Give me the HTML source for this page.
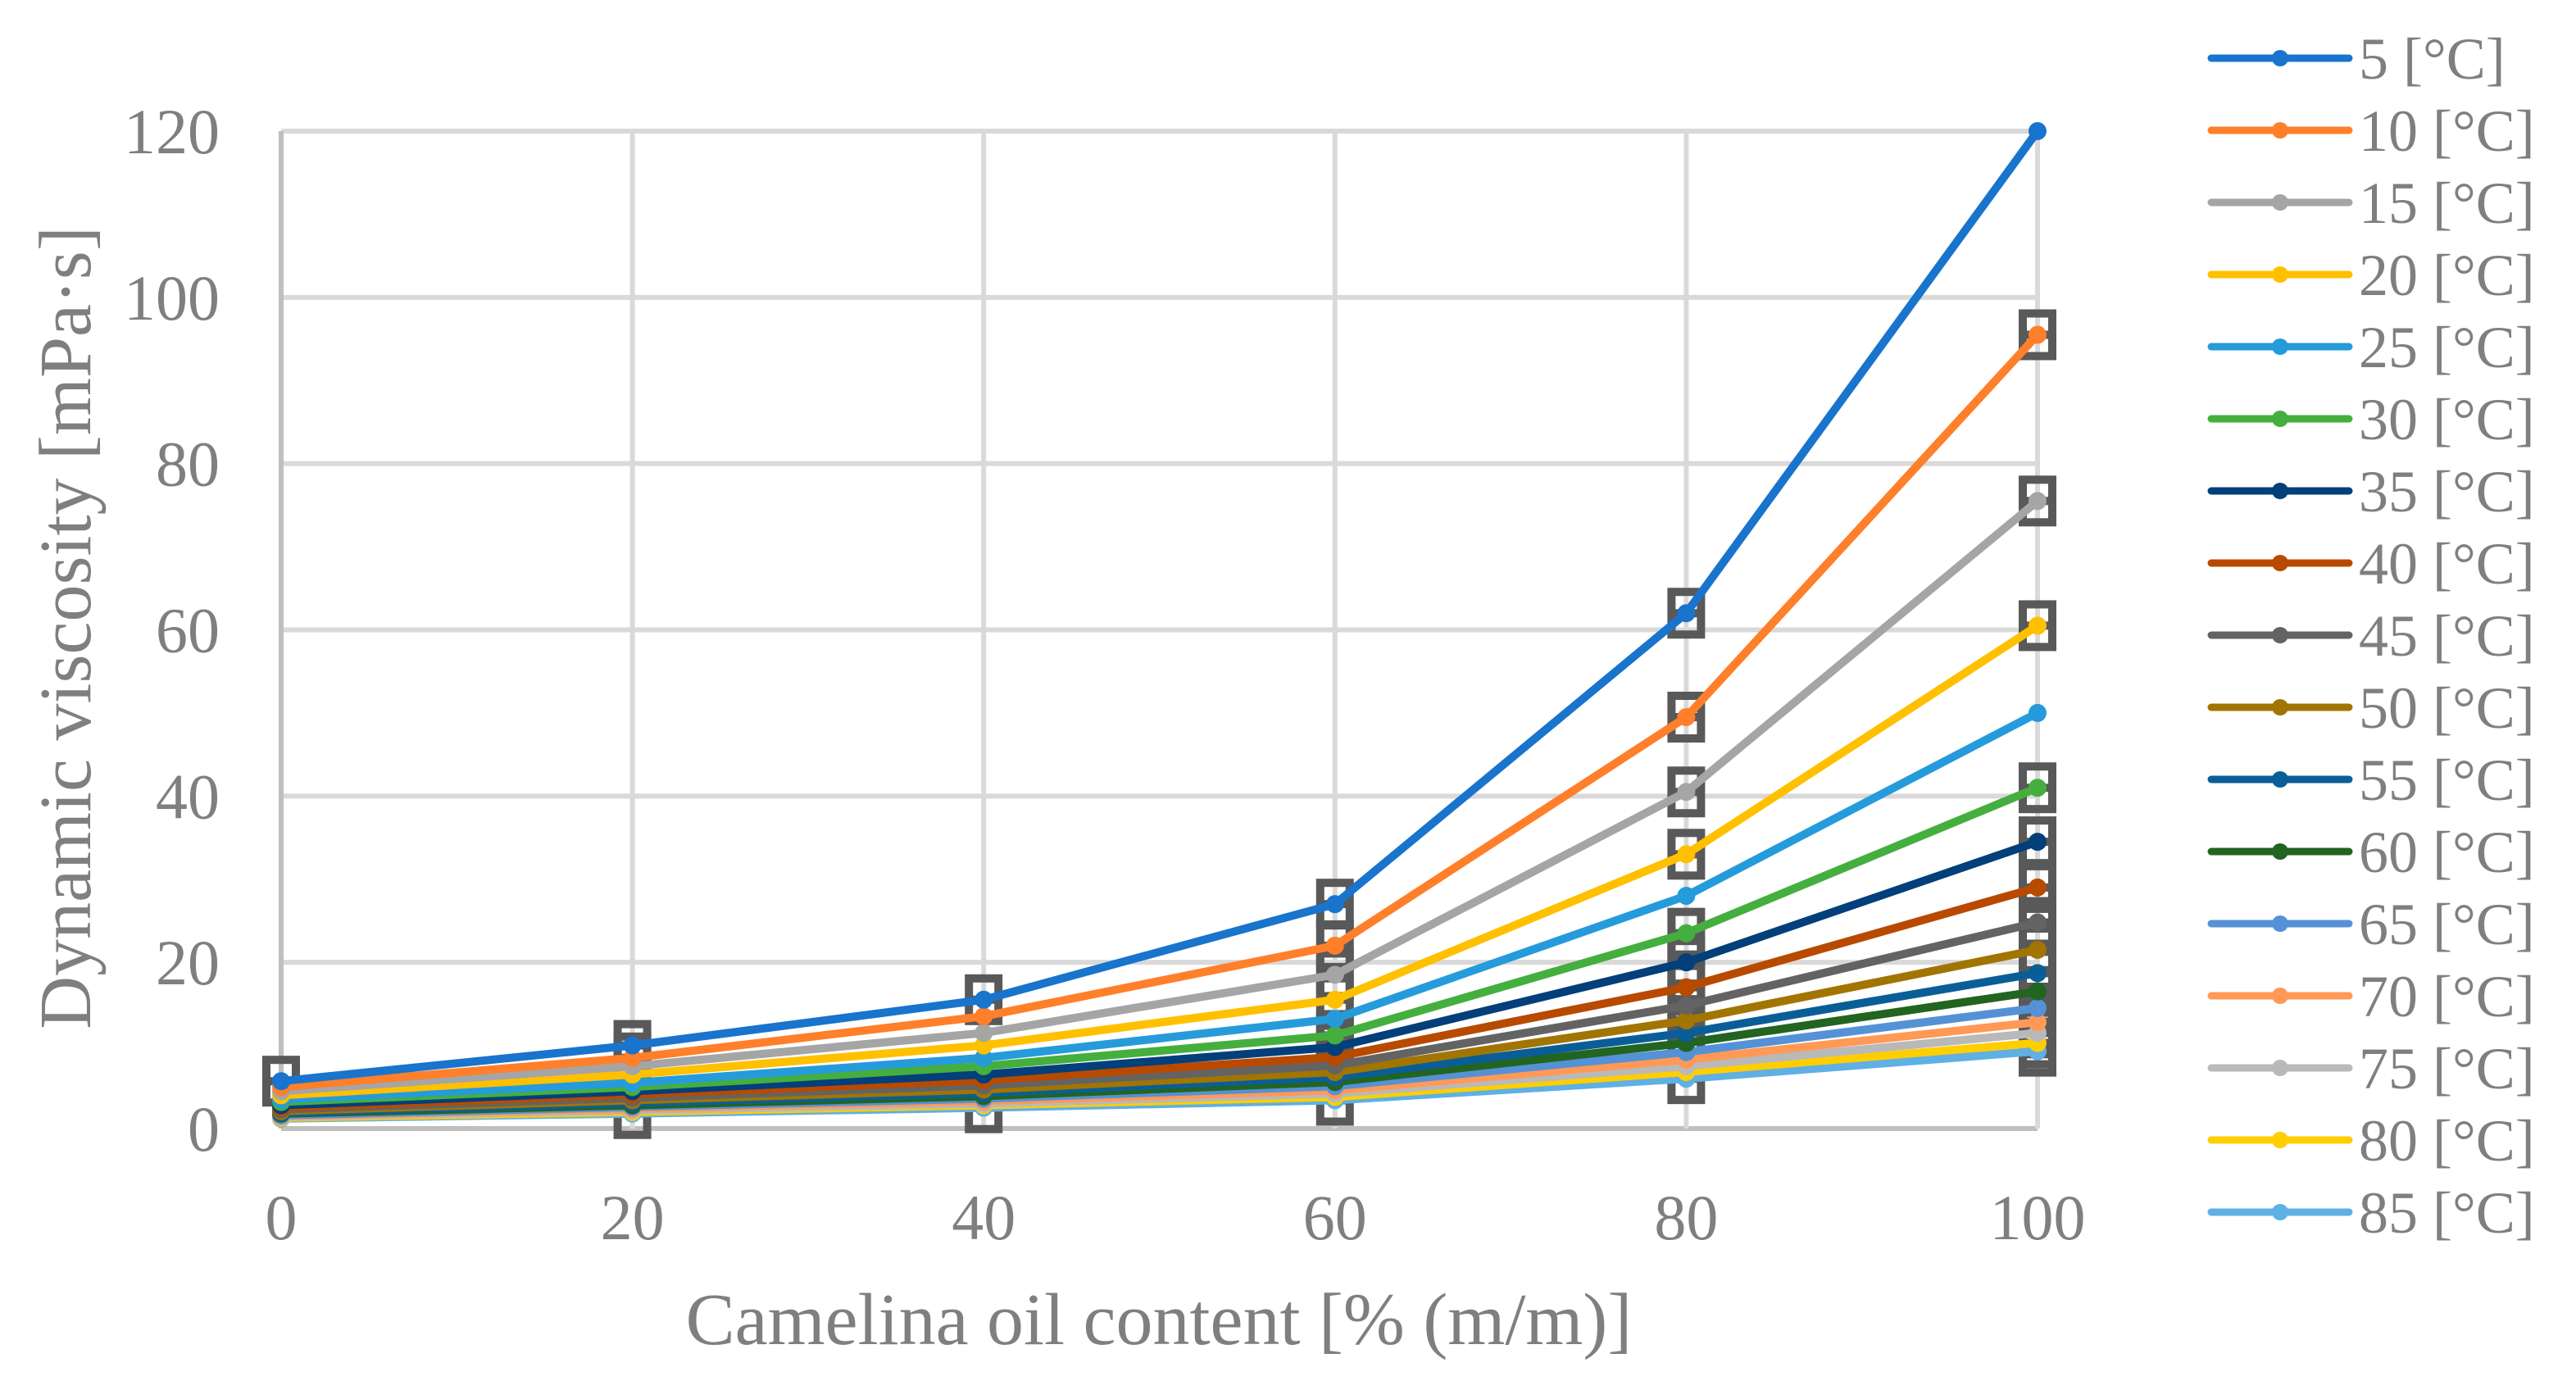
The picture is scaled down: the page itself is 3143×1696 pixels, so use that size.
<!DOCTYPE html>
<html><head><meta charset="utf-8"><style>
html,body{margin:0;padding:0;background:#fff;}
svg{display:block;font-family:"Liberation Serif",serif;}
</style></head><body>
<svg id="chart" width="3143" height="1696" viewBox="0 0 3143 1696" xmlns="http://www.w3.org/2000/svg">
<g id="grid"></g>
<g id="axes"></g>
<g id="errs"></g>
<g id="series"></g>
<g id="legend"></g>
<text x="0" y="0" transform="translate(110,766) rotate(-90)" text-anchor="middle" font-size="90" fill="#7f7f7f">Dynamic viscosity [mPa·s]</text>
<text x="1414" y="1640" text-anchor="middle" font-size="90" fill="#7f7f7f">Camelina oil content [% (m/m)]</text>
</svg>
<script>
const categories = [0, 20, 40, 60, 80, 100];
const yTicks = [0, 20, 40, 60, 80, 100, 120];
const seriesNames = ["5 [°C]","10 [°C]","15 [°C]","20 [°C]","25 [°C]","30 [°C]","35 [°C]","40 [°C]","45 [°C]","50 [°C]","55 [°C]","60 [°C]","65 [°C]","70 [°C]","75 [°C]","80 [°C]","85 [°C]"];
const colors = ["#1874cd","#ff7f2a","#a5a5a5","#ffc000","#259bdb","#44af3e","#033f7a","#b84a00","#636363","#a17500","#0a5e98","#226421","#5591d6","#ff9955","#b9b9b9","#ffce00","#5eb0e5"];
const s5  = [5.7, 10, 15.5, 27, 62, 120];
const s10 = [5.0, 8.5, 13.5, 22, 49.5, 95.5];
const s15 = [4.5, 7.5, 11.5, 18.5, 40.5, 75.5];
const s20 = [4.0, 6.5, 10, 15.5, 33, 60.5];
const s25 = [3.5, 5.5, 8.5, 13.2, 28, 50];
const s30 = [3.2, 5.0, 7.5, 11.2, 23.5, 41];
const s35 = [2.8, 4.5, 6.5, 9.8, 20, 34.5];
const s40 = [2.5, 4.1, 5.8, 8.6, 17, 29];
const s45 = [2.3, 3.7, 5.2, 7.6, 14.8, 24.8];
const s50 = [2.1, 3.4, 4.7, 6.8, 13, 21.5];
const s55 = [1.9, 3.1, 4.3, 6.2, 11.5, 18.7];
const s60 = [1.8, 2.8, 3.9, 5.6, 10.3, 16.5];
const s65 = [1.6, 2.6, 3.6, 5.1, 9.2, 14.5];
const s70 = [1.5, 2.4, 3.3, 4.6, 8.3, 12.8];
const s75 = [1.4, 2.2, 3.0, 4.2, 7.5, 11.5];
const s80 = [1.3, 2.0, 2.8, 3.8, 6.8, 10.3];
const s85 = [1.2, 1.8, 2.5, 3.4, 6.0, 9.3];
const seriesValues = [s5,s10,s15,s20,s25,s30,s35,s40,s45,s50,s55,s60,s65,s70,s75,s80,s85];
// which points carry an error-bar glyph (1 = yes)
const errorFlags = [
 [1,1,1,1,1,0],[0,1,0,1,1,1],[0,0,0,1,1,1],[0,0,0,1,1,1],[0,0,0,0,0,0],[0,0,0,1,1,1],
 [0,0,0,1,1,1],[0,0,0,1,1,1],[0,0,0,1,1,1],[0,0,0,1,1,1],[0,0,0,0,1,1],[0,0,0,0,0,1],
 [0,0,0,0,0,1],[0,0,0,0,0,1],[0,0,0,0,0,1],[0,0,0,0,0,1],[0,1,1,1,1,1]];

const NS = "http://www.w3.org/2000/svg";
const X0 = 343, X1 = 2486, Y0 = 1377, Y1 = 160;
function xScale(v){ return X0 + (v - 0) / 100 * (X1 - X0); }
function yScale(v){ return Y0 - v / 120 * (Y0 - Y1); }
function mk(tag, attrs, parent){ const e = document.createElementNS(NS, tag); for (const k in attrs) e.setAttribute(k, attrs[k]); parent.appendChild(e); return e; }

const grid = document.getElementById('grid');
yTicks.forEach(t => {
  const l = mk('line', {x1:X0, x2:X1, y1:yScale(t), y2:yScale(t), stroke: t===0 ? '#bfbfbf' : '#d9d9d9', 'stroke-width': 6}, grid);
  
  
  const tx = mk('text', {x: 268, y: yScale(t) + 27, 'text-anchor':'end', 'font-size': 78, fill:'#7f7f7f'}, grid);
  tx.textContent = t;
  
  
});
categories.forEach(c => {
  const l = mk('line', {x1:xScale(c), x2:xScale(c), y1:Y1, y2:Y0, stroke: c===0 ? '#bfbfbf' : '#d9d9d9', 'stroke-width': 6}, grid);
  
  
  const tx = mk('text', {x: xScale(c), y: 1512, 'text-anchor':'middle', 'font-size': 78, fill:'#7f7f7f'}, grid);
  tx.textContent = c;
  
  
});

const errs = document.getElementById('errs');
seriesValues.forEach((vals, si) => {
  vals.forEach((v, i) => {
    if (!errorFlags[si][i]) return;
    const cx = xScale(categories[i]), cy = yScale(v);
    const g = mk('g', {fill:'none', stroke:'#595959', 'stroke-width': 10}, errs);
    
    
    mk('rect', {x: cx - 18, y: cy - 26, width: 36, height: 52}, g);
    mk('line', {x1: cx - 18, x2: cx + 18, y1: cy, y2: cy}, g);
  });
});

const sg = document.getElementById('series');
for (let si = seriesValues.length - 1; si >= 0; si--) {
  const vals = seriesValues[si];
  const g = mk('g', {}, sg);
  
  
  const pts = vals.map((v, i) => xScale(categories[i]) + ',' + yScale(v)).join(' ');
  mk('polyline', {points: pts, fill:'none', stroke: colors[si], 'stroke-width': 10, 'stroke-linejoin':'round', 'stroke-linecap':'round'}, g);
  vals.forEach((v, i) => {
    const c = mk('circle', {cx: xScale(categories[i]), cy: yScale(v), r: 11, fill: colors[si]}, g);
    
    
  });
}

const lg = document.getElementById('legend');
seriesNames.forEach((n, i) => {
  const y = 71 + i * 88;
  const g = mk('g', {}, lg);
  
  
  mk('line', {x1: 2698, x2: 2866, y1: y, y2: y, stroke: colors[i], 'stroke-width': 9, 'stroke-linecap':'round'}, g);
  mk('circle', {cx: 2782, cy: y, r: 10, fill: colors[i]}, g);
  const t = mk('text', {x: 2878, y: y + 25, 'font-size': 72, fill: '#7f7f7f'}, g);
  t.textContent = n;
});
</script>
</body></html>
